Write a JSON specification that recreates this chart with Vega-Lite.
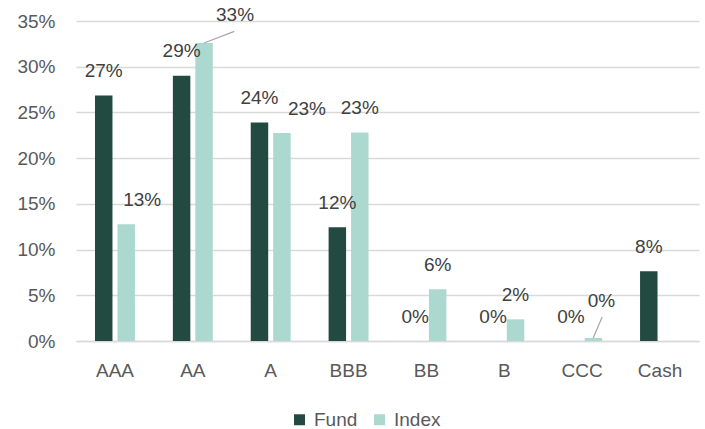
{
  "$schema": "https://vega.github.io/schema/vega-lite/v6.json",
  "width": 623,
  "height": 320,
  "autosize": {"type": "none"},
  "padding": {"left": 76, "top": 21, "right": 6, "bottom": 88},
  "background": "white",
  "config": {
    "view": {"stroke": null},
    "font": "Liberation Sans",
    "text": {"font": "Liberation Sans", "fontSize": 19, "fill": "#404040"}
  },
  "data": {
    "values": [
      {"cat": "AAA", "series": "Fund", "value": 0.2685},
      {"cat": "AAA", "series": "Index", "value": 0.1277},
      {"cat": "AA", "series": "Fund", "value": 0.290},
      {"cat": "AA", "series": "Index", "value": 0.326},
      {"cat": "A", "series": "Fund", "value": 0.239},
      {"cat": "A", "series": "Index", "value": 0.2276},
      {"cat": "BBB", "series": "Fund", "value": 0.1244},
      {"cat": "BBB", "series": "Index", "value": 0.228},
      {"cat": "BB", "series": "Fund", "value": 0},
      {"cat": "BB", "series": "Index", "value": 0.0566},
      {"cat": "B", "series": "Fund", "value": 0},
      {"cat": "B", "series": "Index", "value": 0.0237},
      {"cat": "CCC", "series": "Fund", "value": 0},
      {"cat": "CCC", "series": "Index", "value": 0.0033},
      {"cat": "Cash", "series": "Fund", "value": 0.0763}
    ]
  },
  "encoding": {
    "x": {
      "field": "cat",
      "type": "nominal",
      "sort": ["AAA", "AA", "A", "BBB", "BB", "B", "CCC", "Cash"],
      "scale": {"paddingInner": 0.487, "paddingOuter": 0.244},
      "axis": {
        "title": null,
        "labelAngle": 0,
        "ticks": false,
        "domainColor": "#d9d9d9",
        "domainWidth": 1.3,
        "labelFontSize": 19,
        "labelColor": "#595959",
        "labelFont": "Liberation Sans",
        "labelPadding": 20,
        "grid": false
      }
    },
    "y": {
      "field": "value",
      "type": "quantitative",
      "scale": {"domain": [0, 0.35], "nice": false},
      "axis": {
        "title": null,
        "format": ".0%",
        "values": [0, 0.05, 0.1, 0.15, 0.2, 0.25, 0.3, 0.35],
        "ticks": false,
        "domain": false,
        "grid": true,
        "gridColor": "#d9d9d9",
        "gridWidth": 1.3,
        "labelPadding": 21,
        "labelFontSize": 19,
        "labelColor": "#595959",
        "labelFont": "Liberation Sans"
      }
    }
  },
  "layer": [
    {
      "mark": {"type": "bar"},
      "encoding": {
        "xOffset": {
          "field": "series",
          "sort": ["Fund", "Index"],
          "scale": {"paddingInner": 0.222, "paddingOuter": 0}
        },
        "color": {
          "field": "series",
          "type": "nominal",
          "scale": {"domain": ["Fund", "Index"], "range": ["#234a41", "#acd9cf"]},
          "legend": {
            "title": null,
            "orient": "none",
            "legendX": 214,
            "legendY": 389,
            "direction": "horizontal",
            "symbolType": "square",
            "symbolSize": 121,
            "symbolStrokeWidth": 0,
            "labelFontSize": 19,
            "labelColor": "#595959",
            "labelFont": "Liberation Sans",
            "labelOffset": 5,
            "columnPadding": 12,
            "padding": 0
          }
        }
      }
    },
    {
      "transform": [{"filter": "datum.series == 'Fund' || datum.cat == 'BBB' || datum.cat == 'BB' || datum.cat == 'B'"}],
      "mark": {"type": "text", "baseline": "middle", "dy": -24.5},
      "encoding": {
        "xOffset": {"field": "series", "sort": ["Fund", "Index"]},
        "text": {"field": "value", "format": ".0%"}
      }
    },
    {
      "transform": [{"filter": "datum.series == 'Index' && datum.cat == 'AAA'"}],
      "mark": {"type": "text", "baseline": "middle", "dy": -24.5, "dx": 16},
      "encoding": {
        "xOffset": {"field": "series", "sort": ["Fund", "Index"]},
        "text": {"field": "value", "format": ".0%"}
      }
    },
    {
      "transform": [{"filter": "datum.series == 'Index' && datum.cat == 'AA'"}],
      "mark": {"type": "text", "baseline": "middle", "dy": -28, "dx": 31},
      "encoding": {
        "xOffset": {"field": "series", "sort": ["Fund", "Index"]},
        "text": {"field": "value", "format": ".0%"}
      }
    },
    {
      "transform": [{"filter": "datum.series == 'Index' && datum.cat == 'A'"}],
      "mark": {"type": "text", "baseline": "middle", "dy": -24, "dx": 25},
      "encoding": {
        "xOffset": {"field": "series", "sort": ["Fund", "Index"]},
        "text": {"field": "value", "format": ".0%"}
      }
    },
    {
      "transform": [{"filter": "datum.series == 'Index' && datum.cat == 'CCC'"}],
      "mark": {"type": "text", "baseline": "middle", "dy": -37, "dx": 8},
      "encoding": {
        "xOffset": {"field": "series", "sort": ["Fund", "Index"]},
        "text": {"field": "value", "format": ".0%"}
      }
    },
    {
      "transform": [{"filter": "datum.series == 'Index' && datum.cat == 'AA'"}],
      "mark": {"type": "rule", "color": "#a6a6a6", "strokeWidth": 1.2, "xOffset": 11.25, "x2Offset": 41.5, "y2Offset": -11.6},
      "encoding": {
        "x2": {"field": "cat"},
        "y2": {"field": "value"}
      }
    },
    {
      "transform": [{"filter": "datum.series == 'Index' && datum.cat == 'CCC'"}],
      "mark": {"type": "rule", "color": "#a6a6a6", "strokeWidth": 1.2, "xOffset": 11, "x2Offset": 20, "y2Offset": -21},
      "encoding": {
        "x2": {"field": "cat"},
        "y2": {"field": "value"}
      }
    }
  ]
}
